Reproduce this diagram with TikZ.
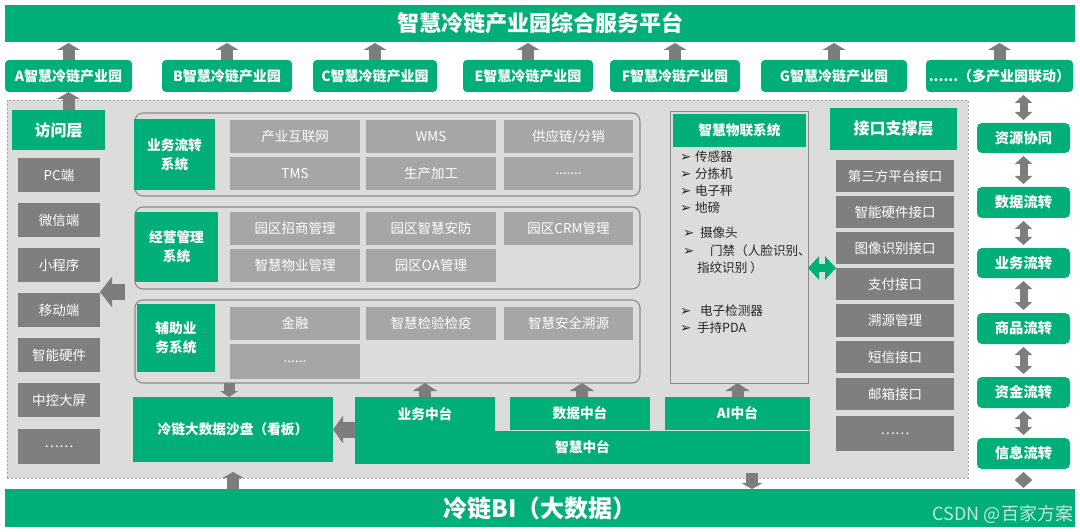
\documentclass[tikz,border=0pt]{standalone}
\usepackage{fontspec}
\setmainfont{Noto Sans CJK SC}
\newfontfamily\dejavu{DejaVu Sans}
\usetikzlibrary{arrows.meta}
\definecolor{gr}{RGB}{0,174,120}
\definecolor{dg}{RGB}{127,127,127}
\definecolor{lg}{RGB}{166,166,166}
\definecolor{ag}{RGB}{220,220,220}
\definecolor{ar}{RGB}{125,125,125}
\definecolor{grpline}{RGB}{140,140,140}
\definecolor{txt}{RGB}{40,40,40}
\newcommand\bxn[6]{\pgfmathsetmacro\bxw{(#4)-(#2)}\pgfmathsetmacro\bxh{(#5)-(#3)}\pgfmathsetmacro\bxcx{((#2)+(#4))/2}\pgfmathsetmacro\bxcy{((#3)+(#5))/2}\node[#6,minimum width=\bxw pt,minimum height=\bxh pt] (#1) at (\bxcx,\bxcy)}
\newcommand\bulg{{\dejavu\fontsize{13.5}{14}\selectfont ➢}}
\newcommand\bul{\makebox[15pt][l]{\bulg}}
\begin{document}
\begin{tikzpicture}[x=1pt,y=-1pt,
  every node/.style={inner sep=0pt,outer sep=0pt},
  gbox/.style={fill=gr,text=white,font=\fontsize{13.7}{19}\selectfont\bfseries,align=center},
  gpark/.style={gbox,rounded corners=4pt,font=\fontsize{14}{16}\selectfont\bfseries},
  gflow/.style={gbox,rounded corners=5pt,font=\fontsize{14.3}{16}\selectfont\bfseries},
  dbox/.style={fill=dg,text=white,font=\fontsize{13.5}{16}\selectfont},
  lbox/.style={fill=lg,text=white,font=\fontsize{13.5}{16}\selectfont},
  grp/.style={draw=grpline,line width=1.1pt,rounded corners=8pt},
  iotitem/.style={anchor=west,text=txt,font=\fontsize{12.6}{14}\selectfont},
  ua/.style={draw=ar,line width=12pt,-{Triangle[width=23pt,length=7pt]}},
  ma/.style={draw=ar,line width=12pt,-{Triangle[width=24pt,length=8pt]}},
  la/.style={draw=ar,line width=16pt,-{Triangle[width=30pt,length=12pt]}},
  da/.style={draw=ar,line width=8pt,{Triangle[width=17pt,length=8pt]}-{Triangle[width=17pt,length=8pt]}},
  gda/.style={draw=gr,line width=8pt,{Triangle[width=23pt,length=11pt]}-{Triangle[width=23pt,length=11pt]}}
]
\useasboundingbox (0,0) rectangle (1080,532);
\fill[white] (0,0) rectangle (1080,532);

% top bar and parks
\bxn{top}{5}{5}{1075}{42}{gbox,font=\fontsize{22}{24}\selectfont\bfseries}{智慧冷链产业园综合服务平台};
\bxn{pA}{5}{60}{132}{92}{gpark}{A智慧冷链产业园};
\bxn{pB}{162}{60}{292}{92}{gpark}{B智慧冷链产业园};
\bxn{pC}{313}{60}{437}{92}{gpark}{C智慧冷链产业园};
\bxn{pE}{463}{60}{593}{92}{gpark}{E智慧冷链产业园};
\bxn{pF}{610}{60}{740}{92}{gpark}{F智慧冷链产业园};
\bxn{pG}{761}{60}{907}{92}{gpark}{G智慧冷链产业园};
\bxn{pH}{926}{60}{1073}{92}{gpark}{......（多产业园联动）};

% main area
\bxn{area}{7}{100}{968}{478}{fill=ag,draw=lg,dash pattern=on 2pt off 2pt,line width=0.8pt}{};

% left column
\bxn{fw}{12}{110}{105}{150}{gbox,font=\fontsize{16}{18}\selectfont\bfseries}{访问层};
\bxn{c1}{18}{158}{100}{192}{dbox}{PC端};
\bxn{c2}{18}{203}{100}{237}{dbox}{微信端};
\bxn{c3}{18}{248}{100}{282}{dbox}{小程序};
\bxn{c4}{18}{293}{100}{327}{dbox}{移动端};
\bxn{c5}{18}{338}{100}{372}{dbox}{智能硬件};
\bxn{c6}{18}{383}{100}{417}{dbox}{中控大屏};
\bxn{c7}{18}{429}{100}{464}{dbox}{……};

% groups
\bxn{g1}{135}{113}{640}{196}{grp}{};
\bxn{g2}{135}{207}{640}{289}{grp}{};
\bxn{g3}{135}{300}{640}{383}{grp}{};
\bxn{l1}{134}{119}{215}{190}{gbox}{业务流转\\系统};
\bxn{l2}{135}{212}{218}{282}{gbox}{经营管理\\系统};
\bxn{l3}{137}{304}{215}{372}{gbox}{辅助业\\务系统};
\bxn{a11}{230}{120}{360}{153}{lbox}{产业互联网};
\bxn{a12}{366}{120}{496}{153}{lbox}{WMS};
\bxn{a13}{504}{120}{633}{153}{lbox}{供应链/分销};
\bxn{a21}{230}{157}{360}{190}{lbox}{TMS};
\bxn{a22}{366}{157}{496}{190}{lbox}{生产加工};
\bxn{a23}{504}{157}{633}{190}{lbox}{.......};
\bxn{b11}{230}{212}{360}{245}{lbox}{园区招商管理};
\bxn{b12}{366}{212}{496}{245}{lbox}{园区智慧安防};
\bxn{b13}{504}{212}{633}{245}{lbox}{园区CRM管理};
\bxn{b21}{230}{249}{360}{282}{lbox}{智慧物业管理};
\bxn{b22}{366}{249}{496}{282}{lbox}{园区OA管理};
\bxn{d11}{230}{307}{360}{340}{lbox}{金融};
\bxn{d12}{366}{307}{496}{340}{lbox}{智慧检验检疫};
\bxn{d13}{504}{307}{633}{340}{lbox}{智慧安全溯源};
\bxn{d21}{230}{344}{360}{379}{lbox}{......};

% IoT
\bxn{iot}{670}{112}{808}{383}{draw=grpline,line width=1pt}{};
\bxn{ioth}{673}{114}{806}{147}{gbox}{智慧物联系统};
\node[iotitem] (i1) at (680,157) {\bul 传感器};
\node[iotitem] (i2) at (680,174) {\bul 分拣机};
\node[iotitem] (i3) at (680,191) {\bul 电子秤};
\node[iotitem] (i4) at (680,208) {\bul 地磅};
\node[iotitem] (i5) at (683,233) {\makebox[17pt][l]{\bulg}摄像头};
\node[iotitem] (i6) at (683,251) {\makebox[27pt][l]{\bulg}门禁（人脸识别、};
\node[iotitem] (i7) at (697,268) {指纹识别 ）};
\node[iotitem] (i8) at (680,311) {\makebox[20pt][l]{\bulg}电子检测器};
\node[iotitem] (i9) at (680,328) {\makebox[17pt][l]{\bulg}手持PDA};

% interface column
\bxn{jk}{830}{108}{957}{150}{gbox,font=\fontsize{16}{18}\selectfont\bfseries}{接口支撑层};
\bxn{f1}{836}{160}{954}{192}{dbox}{第三方平台接口};
\bxn{f2}{836}{196}{954}{228}{dbox}{智能硬件接口};
\bxn{f3}{836}{232}{954}{264}{dbox}{图像识别接口};
\bxn{f4}{836}{268}{954}{300}{dbox}{支付接口};
\bxn{f5}{836}{304}{954}{337}{dbox}{溯源管理};
\bxn{f6}{836}{341}{954}{373}{dbox}{短信接口};
\bxn{f7}{836}{378}{954}{410}{dbox}{邮箱接口};
\bxn{f8}{836}{416}{954}{451}{dbox}{……};

% bottom middle
\bxn{sp}{133}{397}{333}{462}{gbox}{冷链大数据沙盘（看板）};
\bxn{zh}{355}{431}{810}{464}{gbox}{智慧中台};
\bxn{yw}{355}{397}{495}{432}{gbox}{业务中台};
\bxn{sj}{510}{397}{650}{430}{gbox}{数据中台};
\bxn{ai}{665}{397}{810}{430}{gbox}{AI中台};

% right column
\bxn{r1}{977}{123}{1070}{153}{gflow}{资源协同};
\bxn{r2}{977}{187}{1070}{218}{gflow}{数据流转};
\bxn{r3}{977}{248}{1070}{278}{gflow}{业务流转};
\bxn{r4}{977}{313}{1070}{344}{gflow}{商品流转};
\bxn{r5}{977}{377}{1070}{408}{gflow}{资金流转};
\bxn{r6}{977}{438}{1070}{469}{gflow}{信息流转};

% BI bar
\bxn{bi}{5}{489}{1075}{527}{gbox,font=\fontsize{24}{26}\selectfont\bfseries}{冷链BI（大数据）};
\node[anchor=east,text=white,opacity=0.75,font=\fontsize{18}{20}\selectfont] (wm) at (1073,514) {CSDN @百家方案};

% arrows top
\foreach \p in {pA,pB,pC,pE,pF,pG,pH}
  \draw[ua,shorten >=1pt] (\p.north) -- (\p.north |- top.south);
\draw[ua] (pA.south |- fw.north) -- (pA.south);

% right column arrows
\draw[da,shorten <=3pt,shorten >=3pt] (r1.north) -- (r1.north |- pH.south);
\draw[da,shorten <=3pt,shorten >=3pt] (r1.south) -- (r2.north);
\draw[da,shorten <=3pt,shorten >=3pt] (r2.south) -- (r3.north);
\draw[da,shorten <=3pt,shorten >=3pt] (r3.south) -- (r4.north);
\draw[da,shorten <=3pt,shorten >=3pt] (r4.south) -- (r5.north);
\draw[da,shorten <=3pt,shorten >=3pt] (r5.south) -- (r6.north);
\draw[da,shorten <=3pt,shorten >=1pt] (r6.south) -- (r6.south |- bi.north);

% left arrow to access column
\coordinate (lft) at (125,292);
\draw[la] (lft) -- (lft -| c3.east);

% middle arrows
\coordinate (gx) at (229,0);
\draw[ma,line width=11pt,-{Triangle[width=18pt,length=6pt]}] (g3.south -| gx) -- (sp.north -| gx);
\draw[la,line width=16pt,-{Triangle[width=27pt,length=10pt]}] (sp.east -| yw.west) -- (sp.east);
\draw[ma] (yw.north) -- (yw.north |- g3.south);
\coordinate (sx) at (582,0);
\draw[ma] (sj.north -| sx) -- (g3.south -| sx);
\draw[ma] (ai.north) -- (ai.north |- iot.south);

% green double arrow
\coordinate (gy) at (0,268);
\draw[gda] (iot.east |- gy) -- (f4.west |- gy);

% arrows to BI
\draw[ma,line width=12pt,-{Triangle[width=21pt,length=6pt]},shorten >=-6pt] (sp.south |- bi.north) -- (sp.south |- area.south);
\coordinate (bx) at (752,0);
\draw[ma,line width=12pt,-{Triangle[width=21pt,length=6pt]},shorten <=-5pt] (area.south -| bx) -- (bi.north -| bx);
\end{tikzpicture}
\end{document}
